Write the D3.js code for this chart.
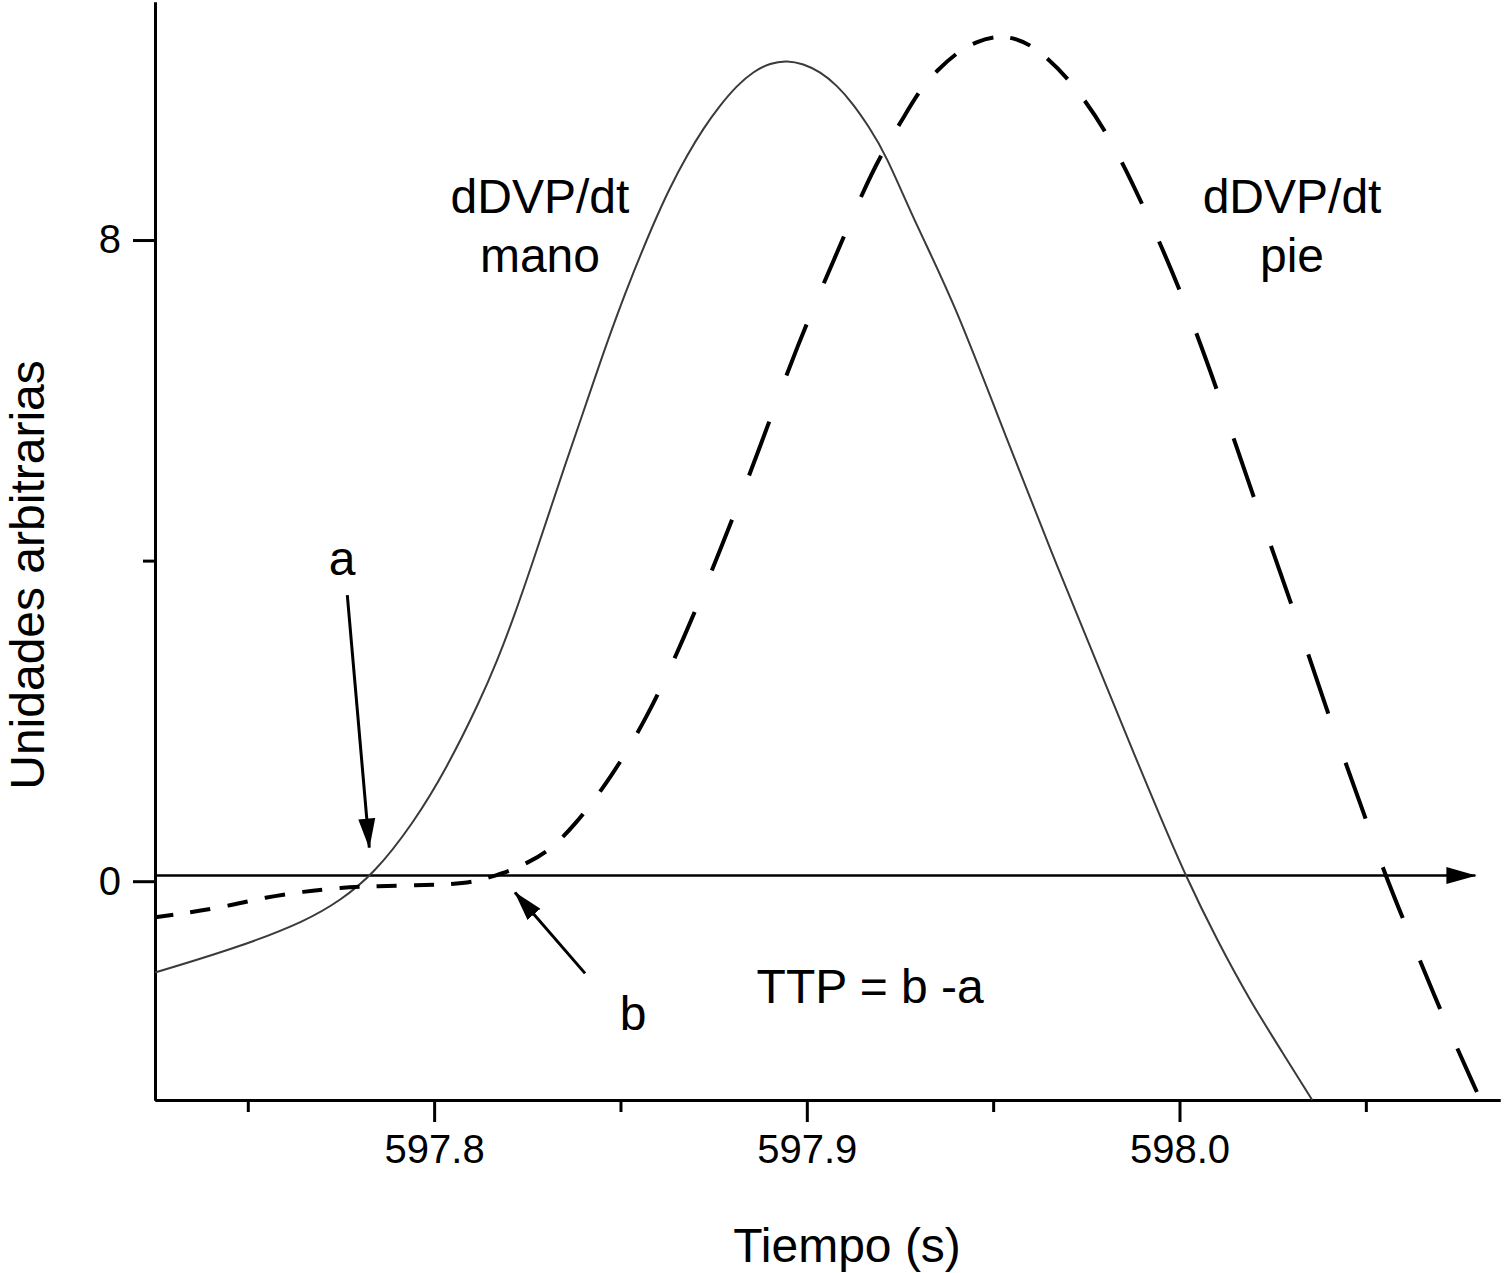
<!DOCTYPE html>
<html lang="es">
<head>
  <meta charset="UTF-8">
  <title>dDVP/dt mano y pie</title>
  <style>
    body { margin: 0; background: #fff; }
    svg { font-family: "Liberation Sans", Arial, Helvetica, sans-serif; }
    .axis path, .axis line { stroke: #000; stroke-width: 3; }
    .axis text { font-size: 40px; fill: #000; }
    .note { font-size: 48px; fill: #000; }
  </style>
</head>
<body>
<script src="https://d3js.org/d3.v7.min.js"></script>
<script>
// 1. data: [time (s), arbitrary units]
const manoData = [
  [597.7251, -1.14], [597.7479, -0.82], [597.7659, -0.49], [597.7748, -0.24],
  [597.7836, 0.08], [597.7944, 0.72], [597.8035, 1.42], [597.8123, 2.25],
  [597.8169, 2.75], [597.8212, 3.27], [597.8266, 4.00], [597.8311, 4.63],
  [597.8351, 5.19], [597.8392, 5.74], [597.8445, 6.47], [597.8491, 7.07],
  [597.8534, 7.59], [597.8588, 8.20], [597.8633, 8.66], [597.8679, 9.06],
  [597.8722, 9.39], [597.8767, 9.68], [597.8813, 9.93], [597.8856, 10.10],
  [597.8902, 10.21], [597.8947, 10.24], [597.8990, 10.20], [597.9036, 10.10],
  [597.9081, 9.93], [597.9124, 9.70], [597.9167, 9.41], [597.9210, 9.09],
  [597.9296, 8.16], [597.9393, 7.25], [597.9537, 5.51], [597.9672, 3.92],
  [597.9814, 2.32], [597.9876, 1.61], [597.9948, 0.81], [598.0015, 0.08],
  [598.0101, -0.74], [598.0189, -1.49], [598.0278, -2.15], [598.0356, -2.73]
];

const pieData = [
  [597.7251, -0.45], [597.7345, -0.39], [597.7447, -0.31], [597.7547, -0.20],
  [597.7649, -0.13], [597.7748, -0.08], [597.7850, -0.06], [597.7949, -0.05],
  [597.8048, -0.04], [597.8105, -0.01], [597.8150, 0.05], [597.8204, 0.13],
  [597.8250, 0.23], [597.8303, 0.36], [597.8373, 0.67], [597.8472, 1.27],
  [597.8572, 2.04], [597.8668, 3.00], [597.8775, 4.21], [597.8875, 5.42],
  [597.8974, 6.69], [597.9081, 7.84], [597.9151, 8.61], [597.9202, 9.09],
  [597.9256, 9.50], [597.9304, 9.88], [597.9352, 10.13], [597.9406, 10.35],
  [597.9452, 10.47], [597.9508, 10.55], [597.9559, 10.52], [597.9613, 10.41],
  [597.9706, 10.01], [597.9808, 9.34], [597.9902, 8.44], [598.0002, 7.39],
  [598.0101, 6.14], [598.0197, 4.81], [598.0302, 3.45], [598.0399, 2.07],
  [598.0501, 0.77], [598.0546, 0.15], [598.0600, -0.47], [598.0699, -1.61],
  [598.0798, -2.63]
];

// 2. axes
const xDomain = [597.7251, 598.0860];
const yDomain = [-2.73, 10.97];
const xMajor = [597.8, 597.9, 598.0];
const xMinor = [597.75, 597.85, 597.95, 598.05];
const yMajor = [0, 8];
const yMinor = [4];

// 3. annotations (positions in data units)
const curveLabels = [
  {t: 597.8284, v: 8.34, lines: ["dDVP/dt", "mano"]},
  {t: 598.0302, v: 8.34, lines: ["dDVP/dt", "pie"]}
];
const letters = [
  {t: 597.7753, v: 3.82, text: "a"},
  {t: 597.8534, v: -1.86, text: "b"},
  {t: 597.9170, v: -1.52, text: "TTP = b -a"}
];
const pointers = [
  {from: [597.7767, 3.57], to: [597.7826, 0.42]},
  {from: [597.8405, -1.15], to: [597.8217, -0.14]}
];
const zeroLine = 0.07;   // the drawn time arrow sits a hair above the 0 tick
const zeroArrowEnd = 598.0794;
const xTitleAt = 597.9108;

// dashed trace: dash pattern repeats every 0.01 s along time
const dashStart = 597.7345, dashPeriod = 0.01, dashOn = 0.0054;

// 4. svg
const width = 1504, height = 1273;
const svg = d3.select("body").append("svg")
  .attr("width", width)
  .attr("height", height);

const x = d3.scaleLinear().domain(xDomain).range([155, 1500]);
const y = d3.scaleLinear().domain(yDomain).range([1100, 2]);

svg.append("defs").append("marker")
    .attr("id", "head")
    .attr("viewBox", "0 -9 30 18")
    .attr("refX", 29)
    .attr("refY", 0)
    .attr("markerWidth", 30)
    .attr("markerHeight", 18)
    .attr("markerUnits", "userSpaceOnUse")
    .attr("orient", "auto")
  .append("path")
    .attr("d", "M0,-8.5L30,0L0,8.5Z")
    .attr("fill", "#000");

// 5. axes
svg.append("g")
    .attr("class", "axis")
    .attr("transform", `translate(0,${y.range()[0]})`)
    .call(d3.axisBottom(x).tickValues(xMinor).tickSize(12).tickSizeOuter(0).tickFormat(""));
svg.append("g")
    .attr("class", "axis")
    .attr("transform", `translate(0,${y.range()[0]})`)
    .call(d3.axisBottom(x).tickValues(xMajor).tickSize(22).tickSizeOuter(0)
      .tickPadding(13).tickFormat(d3.format(".1f")));

svg.append("g")
    .attr("class", "axis")
    .attr("transform", `translate(${x.range()[0]},0)`)
    .call(d3.axisLeft(y).tickValues(yMinor).tickSize(12).tickSizeOuter(0).tickFormat(""));
svg.append("g")
    .attr("class", "axis")
    .attr("transform", `translate(${x.range()[0]},0)`)
    .call(d3.axisLeft(y).tickValues(yMajor).tickSize(22).tickSizeOuter(0).tickPadding(12));

svg.selectAll(".axis text").attr("font-family", null);

svg.append("text")
    .attr("class", "note")
    .attr("x", x(xTitleAt))
    .attr("y", 1262)
    .attr("text-anchor", "middle")
    .text("Tiempo (s)");

svg.append("text")
    .attr("class", "note")
    .attr("transform", "translate(44,575) rotate(-90)")
    .attr("text-anchor", "middle")
    .text("Unidades arbitrarias");

// 6. time arrow at zero
svg.append("line")
    .attr("x1", x.range()[0])
    .attr("x2", x(zeroArrowEnd))
    .attr("y1", y(zeroLine))
    .attr("y2", y(zeroLine))
    .attr("stroke", "#000")
    .attr("stroke-width", 2.5)
    .attr("marker-end", "url(#head)");

// 7. traces
const line = d3.line()
  .x(d => x(d[0]))
  .y(d => y(d[1]))
  .curve(d3.curveBasis);

svg.append("path")
    .datum(manoData)
    .attr("d", line)
    .attr("fill", "none")
    .attr("stroke", "#3a3a3a")
    .attr("stroke-width", 2);

const piePath = svg.append("path")
    .datum(pieData)
    .attr("d", line)
    .attr("fill", "none")
    .attr("stroke", "#000")
    .attr("stroke-width", 4);

// dashes laid out by time (x), not by arc length, like the original trace
const el = piePath.node();
const total = el.getTotalLength();
const x0 = x(dashStart);
const period = x(dashStart + dashPeriod) - x0;
const onLen = x(dashStart + dashOn) - x0;
const isOn = px => ((px - x0) % period + period) % period < onLen;
const dashes = [];
let state = isOn(el.getPointAtLength(0).x);
if (!state) dashes.push(0);
let last = 0;
for (let s = 0.5; s <= total; s += 0.5) {
  const st = isOn(el.getPointAtLength(s).x);
  if (st !== state) {
    dashes.push(s - last);
    last = s;
    state = st;
  }
}
dashes.push(total - last + 5);
piePath.attr("stroke-dasharray", dashes.map(d => d.toFixed(2)).join(" "));

// 8. annotations
svg.append("g")
  .selectAll("text")
  .data(curveLabels)
  .join("text")
    .attr("class", "note")
    .attr("text-anchor", "middle")
    .attr("x", d => x(d.t))
    .attr("y", d => y(d.v))
  .selectAll("tspan")
  .data(d => d.lines.map(s => ({s, t: d.t})))
  .join("tspan")
    .attr("x", d => x(d.t))
    .attr("dy", (d, i) => i ? 59 : 0)
    .text(d => d.s);

svg.append("g")
  .selectAll("text")
  .data(letters)
  .join("text")
    .attr("class", "note")
    .attr("text-anchor", "middle")
    .attr("x", d => x(d.t))
    .attr("y", d => y(d.v))
    .text(d => d.text);

svg.append("g")
  .selectAll("line")
  .data(pointers)
  .join("line")
    .attr("x1", d => x(d.from[0]))
    .attr("y1", d => y(d.from[1]))
    .attr("x2", d => x(d.to[0]))
    .attr("y2", d => y(d.to[1]))
    .attr("stroke", "#000")
    .attr("stroke-width", 3)
    .attr("marker-end", "url(#head)");
</script>
</body>
</html>
